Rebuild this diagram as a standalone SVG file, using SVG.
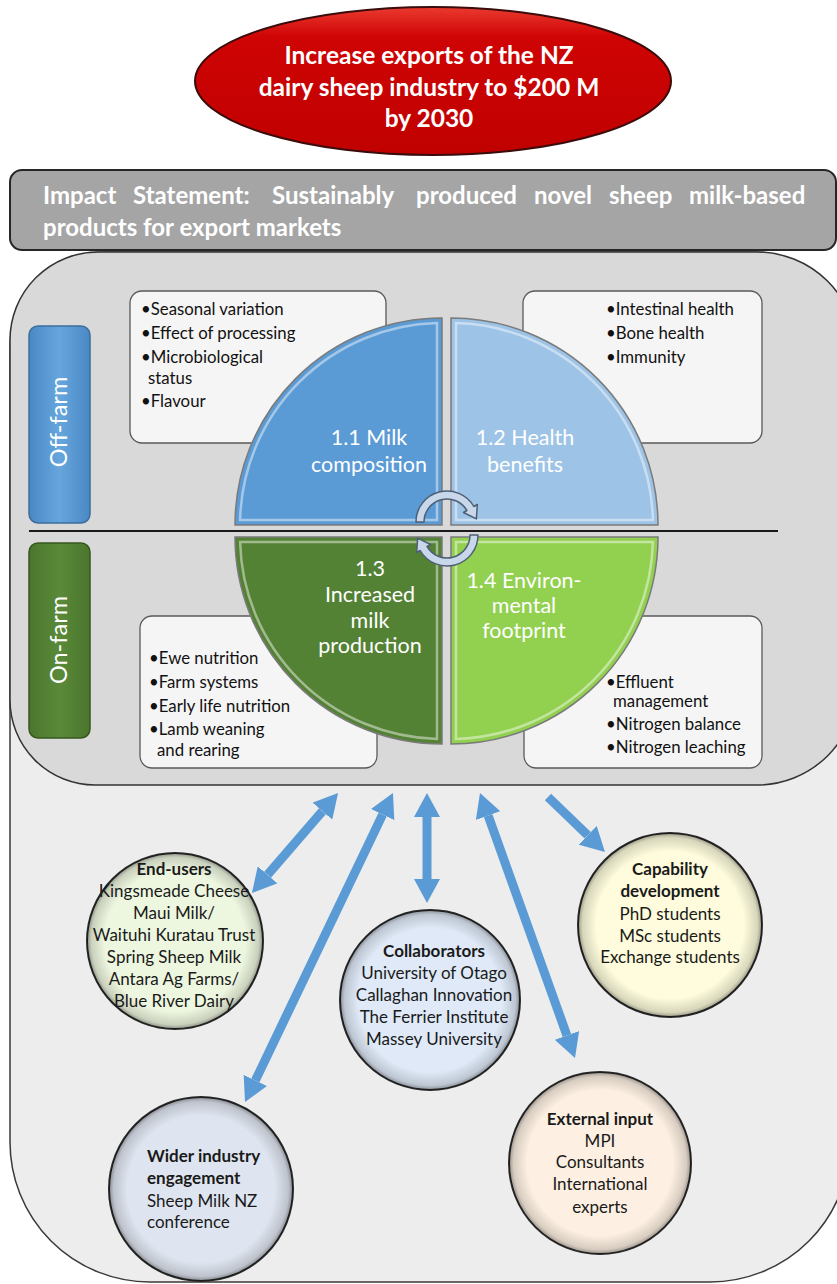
<svg xmlns="http://www.w3.org/2000/svg" width="837" height="1284" viewBox="0 0 837 1284">
  <defs>
    <style>
      .t { font-family: Lato, 'Liberation Sans', sans-serif; }
      .goal { font-size: 24.5px; font-weight: bold; fill: #ffffff; text-anchor: middle; }
      .impact { font-size: 24px; font-weight: bold; fill: #ffffff; }
      .side { font-size: 23.5px; fill: #ffffff; text-anchor: middle; }
      .quad { font-size: 21.5px; fill: #ffffff; text-anchor: middle; }
      .bul { font-size: 16.8px; fill: #111111; }
      .node { font-size: 17px; fill: #1a1a1a; text-anchor: middle; }
      .nodel { font-size: 17px; fill: #1a1a1a; }
      .b { font-weight: bold; }
      .box { fill: #f5f5f5; stroke: #595959; stroke-width: 1.3; }
      .qedge { stroke: #7a7a7a; stroke-width: 1.5; }
      .shine { fill: none; stroke: #ffffff; stroke-opacity: 0.45; stroke-width: 2.5; }
      .circ { stroke: #2a2a2a; stroke-width: 2; }
      .conn { stroke: #5b9bd5; stroke-width: 9; fill: none; }
      .cyc { fill: #c8d7ea; stroke: #4f5f73; stroke-width: 1.5; stroke-linejoin: round; }
    </style>
    <linearGradient id="redFill" x1="0" y1="0" x2="0" y2="1">
      <stop offset="0" stop-color="#ea3a30"/>
      <stop offset="0.2" stop-color="#cf0404"/>
      <stop offset="1" stop-color="#c00000"/>
    </linearGradient>
    <linearGradient id="blueTab" x1="0" y1="0" x2="1" y2="0">
      <stop offset="0" stop-color="#4a88c4"/>
      <stop offset="0.5" stop-color="#66a6dd"/>
      <stop offset="1" stop-color="#4a88c4"/>
    </linearGradient>
    <linearGradient id="greenTab" x1="0" y1="0" x2="1" y2="0">
      <stop offset="0" stop-color="#4a762d"/>
      <stop offset="0.5" stop-color="#5a8a39"/>
      <stop offset="1" stop-color="#4a762d"/>
    </linearGradient>
    <radialGradient id="rim" cx="0.5" cy="0.5" r="0.5">
      <stop offset="0.8" stop-color="#000000" stop-opacity="0"/>
      <stop offset="0.95" stop-color="#000000" stop-opacity="0.15"/>
      <stop offset="1" stop-color="#000000" stop-opacity="0.4"/>
    </radialGradient>
    <marker id="head" viewBox="0 -13 24 26" refX="0" refY="0" markerWidth="24" markerHeight="26" markerUnits="userSpaceOnUse" orient="auto-start-reverse">
      <path d="M0,-13 L24,0 L0,13 Z" fill="#5b9bd5"/>
    </marker>
  </defs>

  <rect width="837" height="1284" fill="#ffffff"/>

  <!-- outer frame and upper research panel -->
  <g id="frame">
    <path d="M10,347 A95,95 0 0 1 105,252 L755,252 A95,95 0 0 1 850,347 L850,1142 A140,140 0 0 1 710,1282 L150,1282 A140,140 0 0 1 10,1142 Z" fill="#ededed" stroke="#3a3a3a" stroke-width="1.5"/>
    <path d="M10,340 A88,88 0 0 1 98,252 L757,252 A100,100 0 0 1 857,352 L857,685 A100,100 0 0 1 757,785 L95,785 A85,85 0 0 1 10,700 Z" fill="#d9d9d9" stroke="#333333" stroke-width="1.5"/>
  </g>

  <!-- goal -->
  <g id="goal">
    <ellipse cx="433" cy="81" rx="238" ry="74" fill="url(#redFill)" stroke="#3a0c0c" stroke-width="2"/>
    <text class="t goal" x="429" y="64">Increase exports of the NZ</text>
    <text class="t goal" x="429" y="96">dairy sheep industry to $200 M</text>
    <text class="t goal" x="429" y="127">by 2030</text>
  </g>

  <!-- impact statement -->
  <g id="impact">
    <rect x="10" y="170" width="826" height="80" rx="12" fill="#a5a5a5" stroke="#262626" stroke-width="2"/>
    <text class="t impact" y="204"><tspan x="43">Impact</tspan><tspan x="133">Statement:</tspan><tspan x="272">Sustainably</tspan><tspan x="416">produced</tspan><tspan x="534">novel</tspan><tspan x="609">sheep</tspan><tspan x="689">milk-based</tspan></text>
    <text class="t impact" x="43" y="236">products for export markets</text>
  </g>

  <!-- side tabs -->
  <g id="off-farm">
    <rect x="29" y="326" width="61" height="197" rx="9" fill="url(#blueTab)" stroke="#3d6e9e" stroke-width="1.5"/>
    <text class="t side" transform="translate(67,422) rotate(-90)">Off-farm</text>
  </g>
  <g id="on-farm">
    <rect x="29" y="543" width="61" height="195" rx="9" fill="url(#greenTab)" stroke="#38571f" stroke-width="1.5"/>
    <text class="t side" transform="translate(67,640) rotate(-90)">On-farm</text>
  </g>

  <line id="divider" x1="29" y1="531" x2="778" y2="531" stroke="#1a1a1a" stroke-width="2"/>

  <!-- bullet boxes -->
  <g id="box-composition">
    <rect class="box" x="130" y="291" width="256" height="152" rx="12"/>
    <text class="t bul" x="141" y="315">•Seasonal variation</text>
    <text class="t bul" x="141" y="339">•Effect of processing</text>
    <text class="t bul" x="141" y="363">•Microbiological</text>
    <text class="t bul" x="148" y="384">status</text>
    <text class="t bul" x="141" y="407">•Flavour</text>
  </g>
  <g id="box-health">
    <rect class="box" x="523" y="291" width="239" height="152" rx="12"/>
    <text class="t bul" x="606" y="315">•Intestinal health</text>
    <text class="t bul" x="606" y="339">•Bone health</text>
    <text class="t bul" x="606" y="363">•Immunity</text>
  </g>
  <g id="box-production">
    <rect class="box" x="140" y="616" width="237" height="152" rx="12"/>
    <text class="t bul" x="149" y="664">•Ewe nutrition</text>
    <text class="t bul" x="149" y="688">•Farm systems</text>
    <text class="t bul" x="149" y="712">•Early life nutrition</text>
    <text class="t bul" x="149" y="735">•Lamb weaning</text>
    <text class="t bul" x="157" y="756">and rearing</text>
  </g>
  <g id="box-environment">
    <rect class="box" x="524" y="616" width="238" height="152" rx="12"/>
    <text class="t bul" x="606" y="688">•Effluent</text>
    <text class="t bul" x="613" y="707">management</text>
    <text class="t bul" x="606" y="730">•Nitrogen balance</text>
    <text class="t bul" x="606" y="753">•Nitrogen leaching</text>
  </g>

  <!-- quadrants -->
  <g id="q-milk-composition">
    <path class="qedge" d="M442,525 L235,525 A207,207 0 0 1 442,318 Z" fill="#5b9bd5"/>
    <path class="shine" d="M437,520 L240.1,520 A202,202 0 0 1 437,323.1 Z"/>
    <text class="t quad" x="369" y="445">1.1 Milk</text>
    <text class="t quad" x="369" y="472">composition</text>
  </g>
  <g id="q-health-benefits">
    <path class="qedge" d="M451,525 L451,318 A207,207 0 0 1 658,525 Z" fill="#9dc3e6"/>
    <path class="shine" d="M456,520 L456,323.1 A202,202 0 0 1 652.9,520 Z"/>
    <text class="t quad" x="525" y="445">1.2 Health</text>
    <text class="t quad" x="525" y="472">benefits</text>
  </g>
  <g id="q-milk-production">
    <path class="qedge" d="M442,537 L442,744 A207,207 0 0 1 235,537 Z" fill="#548235"/>
    <path class="shine" d="M437,542 L437,738.9 A202,202 0 0 1 240.1,542 Z"/>
    <text class="t quad" x="370" y="576">1.3</text>
    <text class="t quad" x="370" y="602">Increased</text>
    <text class="t quad" x="370" y="628">milk</text>
    <text class="t quad" x="370" y="653">production</text>
  </g>
  <g id="q-environment">
    <path class="qedge" d="M451,537 L658,537 A207,207 0 0 1 451,744 Z" fill="#92d050"/>
    <path class="shine" d="M456,542 L652.9,542 A202,202 0 0 1 456,738.9 Z"/>
    <text class="t quad" x="524" y="588">1.4 Environ-</text>
    <text class="t quad" x="524" y="613">mental</text>
    <text class="t quad" x="524" y="638">footprint</text>
  </g>

  <!-- cycle arrows at the centre -->
  <g id="cycle">
    <path class="cyc" d="M416,522 A31,31 0 0 1 473.85,506.5 L477.3,504.5 L476.4,518.9 L463.5,512.5 L466.9,510.5 A23,23 0 0 0 424,522 Z"/>
    <path class="cyc" d="M478,535 A31,31 0 0 1 420.15,550.5 L416.7,552.5 L417.6,538.1 L430.55,544.5 L427.1,546.5 A23,23 0 0 0 470,535 Z"/>
  </g>

  <!-- connectors -->
  <g id="connectors">
    <line class="conn" x1="322.4" y1="811.2" x2="267.6" y2="874.8" marker-start="url(#head)" marker-end="url(#head)"/>
    <line class="conn" x1="382.6" y1="814.6" x2="255.4" y2="1080.4" marker-start="url(#head)" marker-end="url(#head)"/>
    <line class="conn" x1="427" y1="817" x2="427" y2="879" marker-start="url(#head)" marker-end="url(#head)"/>
    <line class="conn" x1="488.1" y1="815.6" x2="566.9" y2="1035.4" marker-start="url(#head)" marker-end="url(#head)"/>
    <line class="conn" x1="548" y1="797" x2="587.7" y2="835.3" marker-end="url(#head)"/>
  </g>

  <!-- stakeholder nodes -->
  <g id="end-users">
    <circle class="circ" cx="175" cy="941" r="88" fill="#edf6df"/>
    <circle cx="175" cy="941" r="88" fill="url(#rim)"/>
    <text class="t node b" x="174" y="875">End-users</text>
    <text class="t node" x="174" y="897">Kingsmeade Cheese</text>
    <text class="t node" x="174" y="919">Maui Milk/</text>
    <text class="t node" x="174" y="941">Waituhi Kuratau Trust</text>
    <text class="t node" x="174" y="963">Spring Sheep Milk</text>
    <text class="t node" x="174" y="985">Antara Ag Farms/</text>
    <text class="t node" x="174" y="1007">Blue River Dairy</text>
  </g>
  <g id="collaborators">
    <circle class="circ" cx="430" cy="1000" r="90" fill="#dfe9f7"/>
    <circle cx="430" cy="1000" r="90" fill="url(#rim)"/>
    <text class="t node b" x="434" y="957">Collaborators</text>
    <text class="t node" x="434" y="979">University of Otago</text>
    <text class="t node" x="434" y="1001">Callaghan Innovation</text>
    <text class="t node" x="434" y="1023">The Ferrier Institute</text>
    <text class="t node" x="434" y="1045">Massey University</text>
  </g>
  <g id="capability">
    <circle class="circ" cx="670" cy="925" r="92" fill="#fefcdc"/>
    <circle cx="670" cy="925" r="92" fill="url(#rim)"/>
    <text class="t node b" x="670" y="875">Capability</text>
    <text class="t node b" x="670" y="897">development</text>
    <text class="t node" x="670" y="920">PhD students</text>
    <text class="t node" x="670" y="942">MSc students</text>
    <text class="t node" x="670" y="963">Exchange students</text>
  </g>
  <g id="wider-industry">
    <circle class="circ" cx="201" cy="1189" r="92" fill="#dfe5f0"/>
    <circle cx="201" cy="1189" r="92" fill="url(#rim)"/>
    <text class="t nodel b" x="147" y="1162">Wider industry</text>
    <text class="t nodel b" x="147" y="1184">engagement</text>
    <text class="t nodel" x="147" y="1207">Sheep Milk NZ</text>
    <text class="t nodel" x="147" y="1228">conference</text>
  </g>
  <g id="external-input">
    <circle class="circ" cx="600" cy="1163" r="91" fill="#fdf0e2"/>
    <circle cx="600" cy="1163" r="91" fill="url(#rim)"/>
    <text class="t node b" x="600" y="1125">External input</text>
    <text class="t node" x="600" y="1147">MPI</text>
    <text class="t node" x="600" y="1168">Consultants</text>
    <text class="t node" x="600" y="1190">International</text>
    <text class="t node" x="600" y="1213">experts</text>
  </g>
</svg>
